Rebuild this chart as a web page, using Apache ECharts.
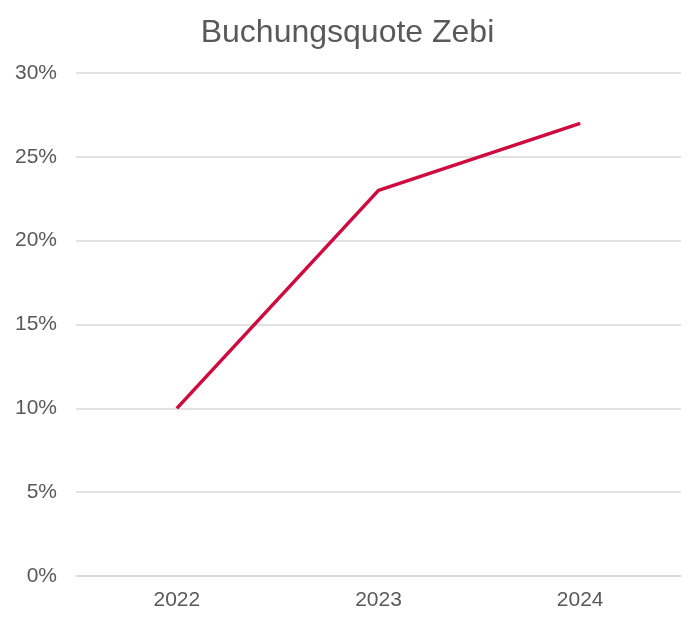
<!DOCTYPE html>
<html>
<head>
<meta charset="utf-8">
<script src="https://cdn.jsdelivr.net/npm/echarts@6/dist/echarts.min.js"></script>
<style>
  html, body { margin: 0; padding: 0; background: #fff; }
  #chart { width: 695px; height: 620px; }
</style>
</head>
<body>
<div id="chart"></div>
<script>
// daten
const years = ['2022', '2023', '2024'];
const quote = [10, 23, 27];

const chart = echarts.init(document.getElementById('chart'));
const option = {
  backgroundColor: '#ffffff',
  animation: false,
  title: {
    text: 'Buchungsquote Zebi',
    left: 'center',
    top: 12,
    textStyle: {
      fontFamily: 'Liberation Sans',
      fontSize: 32,
      fontWeight: 'normal',
      color: '#595959'
    }
  },
  grid: { left: 76, right: 14, top: 73, bottom: 44 },
  xAxis: {
    type: 'category',
    data: years,
    boundaryGap: true,
    axisLine: { show: true, lineStyle: { color: '#d9d9d9', width: 1.5 } },
    axisTick: { show: false },
    axisLabel: {
      fontFamily: 'Liberation Sans',
      fontSize: 21,
      color: '#595959',
      margin: 14
    }
  },
  yAxis: {
    type: 'value',
    min: 0,
    max: 30,
    interval: 5,
    axisLine: { show: false },
    axisTick: { show: false },
    splitLine: { lineStyle: { color: '#d9d9d9', width: 1.5 } },
    axisLabel: {
      formatter: '{value}%',
      fontFamily: 'Liberation Sans',
      fontSize: 21,
      color: '#595959',
      margin: 19
    }
  },
  series: [{
    type: 'line',
    data: quote,
    symbol: 'none',
    lineStyle: { color: '#d00a3f', width: 3.5 }
  }]
};
chart.setOption(option);
</script>
</body>
</html>
